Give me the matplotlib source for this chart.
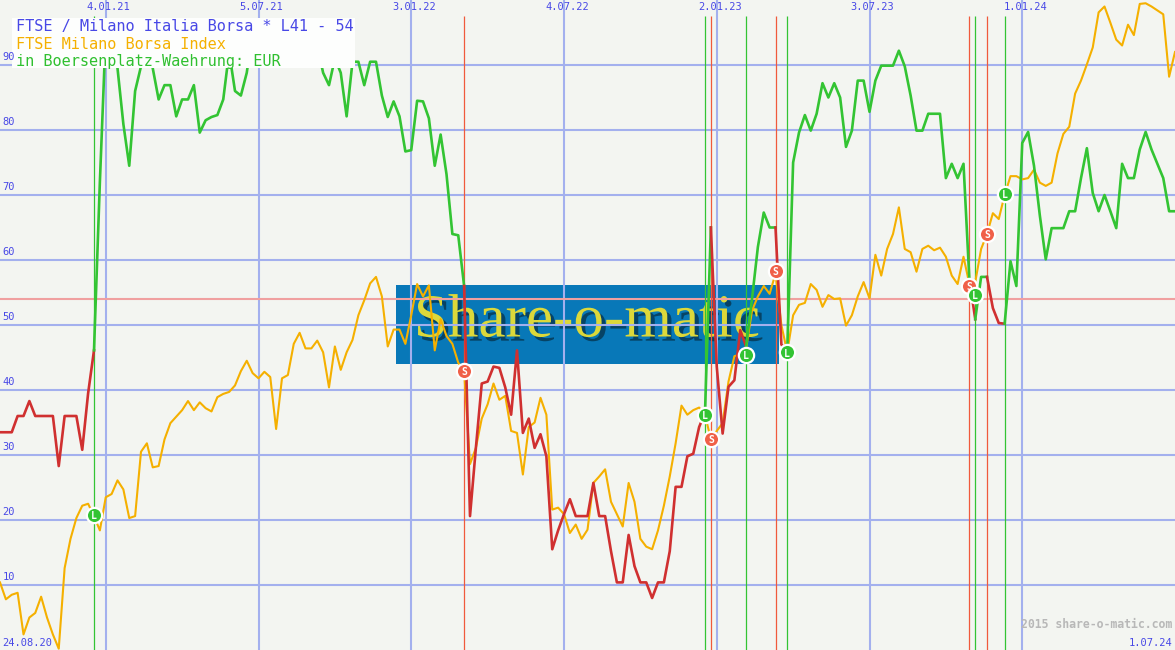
import numpy as np
import matplotlib
matplotlib.use("Agg")
import matplotlib.pyplot as plt
import matplotlib.patheffects as pe

# weekly closes of the index, scaled 0..100 as on the chart
ftse_index = [
    10.4, 7.8, 8.5, 8.8, 2.4, 5.0, 5.7, 8.2, 5.0, 2.4,
    0.2, 12.6, 17.1, 20.3, 22.2, 22.5, 20.6, 18.4, 23.5, 24.0,
    26.1, 24.7, 20.3, 20.6, 30.5, 31.8, 28.1, 28.3, 32.4, 34.9,
    35.9, 36.9, 38.3, 36.9, 38.1, 37.2, 36.7, 38.9, 39.4, 39.7,
    40.7, 42.9, 44.5, 42.6, 41.8, 42.8, 42.0, 34.0, 41.8, 42.3,
    47.1, 48.8, 46.4, 46.4, 47.6, 45.8, 40.4, 46.7, 43.1, 45.8,
    47.7, 51.5, 53.8, 56.4, 57.4, 54.4, 46.7, 49.3, 49.3, 47.1,
    51.5, 56.3, 54.4, 56.1, 46.1, 50.9, 48.3, 47.1, 44.2, 42.9,
    28.6, 31.1, 35.6, 37.8, 41.0, 38.5, 39.1, 33.7, 33.4, 27.0,
    34.3, 35.0, 38.8, 36.2, 21.6, 21.9, 20.9, 18.0, 19.3, 17.1,
    18.5, 25.7, 26.7, 27.8, 22.8, 20.9, 19.0, 25.7, 22.8, 17.1,
    15.9, 15.5, 18.4, 22.2, 26.7, 31.8, 37.6, 36.2, 36.9, 37.3,
    36.2, 32.4, 33.7, 34.9, 41.3, 45.2, 45.5, 46.4, 52.2, 54.4,
    56.0, 54.8, 57.9, 50.0, 45.8, 51.5, 53.1, 53.4, 56.3, 55.4,
    52.8, 54.6, 54.0, 54.1, 49.9, 51.5, 54.4, 56.6, 54.1, 60.8,
    57.6, 61.7, 64.0, 68.1, 61.7, 61.2, 58.2, 61.7, 62.2, 61.5,
    61.9, 60.5, 57.6, 56.3, 60.5, 56.3, 56.6, 61.7, 64.0, 67.2,
    66.3, 70.0, 72.9, 72.9, 72.4, 72.6, 73.9, 71.9, 71.4, 71.9,
    76.4, 79.4, 80.5, 85.6, 87.6, 90.1, 92.7, 98.1, 99.0, 96.5,
    93.9, 93.0, 96.2, 94.6, 99.4, 99.5, 99.0, 98.4, 97.8, 88.2,
    92.0,
]

# L41 - 54 indicator
indicator = [
    33.5, 33.5, 33.5, 36.0, 36.0, 38.3, 36.0, 36.0, 36.0, 36.0,
    28.3, 36.0, 36.0, 36.0, 30.8, 39.5, 46.1, 72.0, 95.0, 97.0,
    89.5, 80.9, 74.5, 86.0, 89.8, 94.0, 89.5, 84.7, 86.9, 86.9,
    82.1, 84.7, 84.7, 86.9, 79.6, 81.5, 82.0, 82.3, 84.7, 92.0,
    86.0, 85.3, 88.8, 95.0, 97.0, 96.0, 93.0, 95.0, 97.0, 96.0,
    94.0, 95.0, 97.0, 95.0, 93.0, 88.8, 86.9, 91.0, 88.8, 82.1,
    90.5, 90.5, 86.9, 90.5, 90.5, 85.3, 82.0, 84.4, 82.1, 76.7,
    76.9, 84.5, 84.4, 81.8, 74.5, 79.3, 73.2, 64.0, 63.8, 56.0,
    20.6, 31.1, 41.0, 41.3, 43.6, 43.4, 40.4, 36.2, 46.1, 33.4,
    35.6, 31.1, 33.2, 29.8, 15.5, 18.4, 20.9, 23.2, 20.6, 20.6,
    20.6, 25.7, 20.6, 20.6, 15.2, 10.4, 10.4, 17.7, 12.9, 10.4,
    10.4, 8.0, 10.4, 10.4, 15.2, 25.1, 25.1, 29.8, 30.2, 34.3,
    36.5, 65.0, 43.6, 33.3, 40.5, 41.5, 49.2, 46.7, 54.0, 62.0,
    67.3, 65.0, 65.0, 47.0, 46.0, 75.0, 79.6, 82.3, 79.9, 82.5,
    87.2, 85.0, 87.2, 85.0, 77.4, 79.9, 87.6, 87.6, 82.8, 87.6,
    89.9, 89.9, 89.9, 92.2, 89.8, 85.3, 79.9, 79.9, 82.5, 82.5,
    82.5, 72.6, 74.8, 72.6, 74.8, 57.0, 50.9, 57.4, 57.4, 52.6,
    50.3, 50.2, 59.8, 56.0, 78.0, 79.7, 74.5, 66.8, 60.1, 64.9,
    64.9, 64.9, 67.5, 67.5, 72.6, 77.2, 70.3, 67.5, 70.0, 67.5,
    64.9, 74.8, 72.6, 72.6, 77.0, 79.7, 77.0, 74.8, 72.6, 67.5,
    67.5,
]

# trade signals: week, kind, level of the marker
signal_weeks = [16, 79, 120, 121, 127, 132, 134, 165, 166, 168, 171]
signal_kinds = ["L", "S", "L", "S", "L", "S", "L", "S", "L", "S", "L"]
signal_levels = [20.8, 42.9, 36.2, 32.5, 45.4, 58.3, 45.8, 56.0, 54.6, 64.0, 70.2]

short_level = 54
grid_values = [10, 20, 30, 40, 50, 60, 70, 80, 90]
date_weeks = [18, 44, 70, 96, 122, 148, 174]
date_labels = ["4.01.21", "5.07.21", "3.01.22", "4.07.22", "2.01.23", "3.07.23", "1.01.24"]
first_date = "24.08.20"
last_date = "1.07.24"

BG = "#f3f5f1"
GRID = "#a3b0ee"
BLUE_TXT = "#4848e6"
ORANGE = "#f5b000"
GREEN = "#33c433"
RED = "#d03030"
SIG_RED = "#f06048"
MONO = "DejaVu Sans Mono"

weeks = np.arange(len(ftse_index))
n_weeks = len(ftse_index) - 1

fig = plt.figure(figsize=(11.75, 6.5), dpi=100, facecolor=BG)
ax = fig.add_axes([0, 0, 1, 1])
ax.axis("off")
ax.set_xlim(0, n_weeks)
ax.set_ylim(0, 100)

# watermark in the background
ax.add_patch(plt.Rectangle((0.337, 0.44), 0.326, 0.1215, transform=ax.transAxes,
                           facecolor="#0878b8", edgecolor="none", zorder=0.5))
ax.text(0.4996, 0.505, "Share-o-matic", transform=ax.transAxes, ha="center", va="center",
        fontsize=44, family="Liberation Serif", color="#dcd83a", zorder=0.6,
        path_effects=[pe.withSimplePatchShadow(offset=(3, -3), shadow_rgbFace="#063650", alpha=0.8)])

# grid and axis labels
ylab = ax.get_yaxis_transform()
for v in grid_values:
    ax.axhline(v, color=GRID, lw=1.5, zorder=1)
    ax.text(0.002, v + 0.5, str(v), transform=ylab, color=BLUE_TXT,
            fontsize=7.5, family=MONO, va="bottom", ha="left", zorder=6)
for w in date_weeks:
    ax.axvline(w, color=GRID, lw=1.5, zorder=1)
for w, lab in zip(date_weeks, date_labels):
    ax.text(w + 0.5, 98.9, lab, color=BLUE_TXT, fontsize=7.5, family=MONO,
            ha="center", va="center", zorder=6)
ax.axhline(short_level, color="#f0a0a0", lw=1.5, zorder=1.2)

# signal lines
for w, k in zip(signal_weeks, signal_kinds):
    ax.vlines(w, 0, 97.5, color=GREEN if k == "L" else "#f05a3c", lw=0.9, zorder=1.5)

# index line
ax.plot(weeks, ftse_index, color=ORANGE, lw=1.5, zorder=2)

# indicator, coloured green while long, red while short
bounds = [0] + signal_weeks + [n_weeks]
states = ["S"] + signal_kinds
for a, b, st in zip(bounds[:-1], bounds[1:], states):
    ax.plot(weeks[a:b + 1], indicator[a:b + 1], color=GREEN if st == "L" else RED,
            lw=1.9, zorder=3)

# markers
for w, k, lv in zip(signal_weeks, signal_kinds, signal_levels):
    ax.plot(w, lv, "o", ms=11, mfc=GREEN if k == "L" else SIG_RED, mec="white", mew=1.6, zorder=4)
    ax.text(w, lv - 0.2, k, color="white", fontsize=7, fontweight="bold", family=MONO,
            ha="center", va="center", zorder=4.5)

# title box
ax.add_patch(plt.Rectangle((0.0102, 0.8954), 0.292, 0.0769, transform=ax.transAxes,
                           facecolor="#fdfefd", edgecolor="none", zorder=5))
ax.text(0.0136, 0.9585, "FTSE / Milano Italia Borsa * L41 - 54", transform=ax.transAxes,
        color=BLUE_TXT, fontsize=11, family=MONO, va="center", zorder=6)
ax.text(0.0136, 0.9315, "FTSE Milano Borsa Index", transform=ax.transAxes,
        color=ORANGE, fontsize=11, family=MONO, va="center", zorder=6)
ax.text(0.0136, 0.905, "in Boersenplatz-Waehrung: EUR", transform=ax.transAxes,
        color="#30c030", fontsize=11, family=MONO, va="center", zorder=6)

ax.text(0.0017, 0.0105, first_date, transform=ax.transAxes, color=BLUE_TXT, fontsize=7.5,
        family=MONO, ha="left", va="center", zorder=6)
ax.text(0.9975, 0.0105, last_date, transform=ax.transAxes, color=BLUE_TXT, fontsize=7.5,
        family=MONO, ha="right", va="center", zorder=6)
ax.text(0.9975, 0.04, "2015 share-o-matic.com", transform=ax.transAxes, color="#b8b8b8",
        fontsize=8.3, family=MONO, fontweight="bold", ha="right", va="center", zorder=6)

fig.savefig("out.png", dpi=100, facecolor=BG)
